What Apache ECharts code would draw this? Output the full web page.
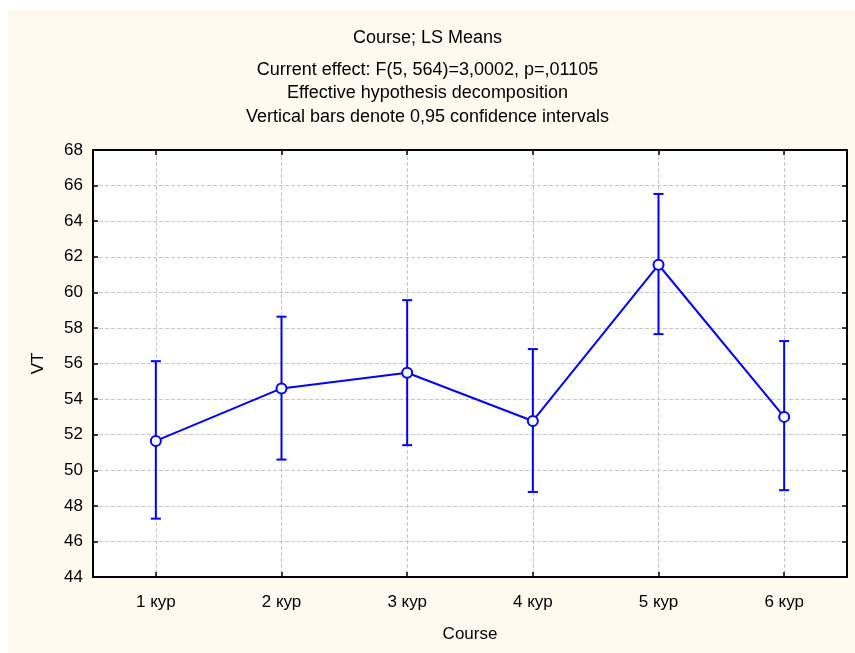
<!DOCTYPE html>
<html>
<head>
<meta charset="utf-8">
<script src="https://cdn.jsdelivr.net/npm/echarts@6/dist/echarts.min.js"></script>
<style>
html,body{margin:0;padding:0;background:#fff;}
#chart{width:855px;height:653px;}
</style>
</head>
<body>
<div id="chart"></div>
<script>
const categories = ['1 кур', '2 кур', '3 кур', '4 кур', '5 кур', '6 кур'];
const means = [51.65, 54.6, 55.48, 52.77, 61.55, 53.0];
const lower = [47.28, 50.6, 51.41, 48.78, 57.65, 48.88];
const upper = [56.13, 58.63, 59.56, 56.81, 65.53, 57.26];
const yTicks = { min: 44, max: 68, interval: 2 };

const FONT = '"Liberation Sans", Arial, sans-serif';
const BLUE = '#0000ff';

const chart = echarts.init(document.getElementById('chart'), null, { renderer: 'canvas' });

const errData = categories.map((c, i) => [i, lower[i], upper[i]]);

const option = {
  backgroundColor: '#ffffff',
  animation: false,
  textStyle: { fontFamily: FONT },
  graphic: [{
    type: 'rect', z: -100, silent: true,
    shape: { x: 8, y: 10, width: 847, height: 643 },
    style: { fill: '#fffaf0' }
  }],
  title: {
    text: 'Course; LS Means',
    subtext: 'Current effect: F(5, 564)=3,0002, p=,01105\nEffective hypothesis decomposition\nVertical bars denote 0,95 confidence intervals',
    left: 'center', top: 24,
    itemGap: 11,
    textStyle: { fontFamily: FONT, fontSize: 18, fontWeight: 'normal', color: '#000' },
    subtextStyle: { fontFamily: FONT, fontSize: 18, color: '#000', lineHeight: 23.5 }
  },
  grid: {
    left: 93, top: 150, right: 8, bottom: 76,
    show: true, backgroundColor: '#ffffff', borderWidth: 0, containLabel: false
  },
  xAxis: [{
    type: 'category', data: categories, position: 'bottom', boundaryGap: true,
    axisLine: { show: true, lineStyle: { color: '#000', width: 2 } },
    axisTick: { show: true, inside: true, length: 5, alignWithLabel: true, lineStyle: { color: '#000', width: 1.5 } },
    axisLabel: { color: '#000', fontSize: 17, margin: 17, fontFamily: FONT },
    splitLine: { show: true, alignWithLabel: true, lineStyle: { color: '#c8c8c8', type: 'dashed', width: 1 } },
    name: 'Course', nameLocation: 'middle', nameGap: 49,
    nameTextStyle: { color: '#000', fontSize: 17, fontFamily: FONT }
  }, {
    type: 'category', data: categories, position: 'top', boundaryGap: true,
    axisLine: { show: true, lineStyle: { color: '#000', width: 2 } },
    axisTick: { show: true, inside: true, length: 5, alignWithLabel: true, lineStyle: { color: '#000', width: 1.5 } },
    axisLabel: { show: false },
    splitLine: { show: false }
  }],
  yAxis: [{
    type: 'value', position: 'left', min: yTicks.min, max: yTicks.max, interval: yTicks.interval,
    axisLine: { show: true, lineStyle: { color: '#000', width: 2 } },
    axisTick: { show: true, inside: true, length: 5, lineStyle: { color: '#000', width: 1.5 } },
    axisLabel: { color: '#000', fontSize: 17, margin: 10, fontFamily: FONT },
    splitLine: { show: true, lineStyle: { color: '#c8c8c8', type: 'dashed', width: 1 } },
    name: 'VT', nameLocation: 'middle', nameGap: 46, nameRotate: 90,
    nameTextStyle: { color: '#000', fontSize: 17, fontFamily: FONT }
  }, {
    type: 'value', position: 'right', min: yTicks.min, max: yTicks.max, interval: yTicks.interval,
    axisLine: { show: true, lineStyle: { color: '#000', width: 2 } },
    axisTick: { show: true, inside: true, length: 5, lineStyle: { color: '#000', width: 1.5 } },
    axisLabel: { show: false },
    splitLine: { show: false }
  }],
  series: [{
    type: 'custom', xAxisIndex: 0, yAxisIndex: 0, z: 3,
    data: errData,
    encode: { x: 0, y: [1, 2] },
    renderItem: function (params, api) {
      const x = api.value(0);
      const lo = api.coord([x, api.value(1)]);
      const hi = api.coord([x, api.value(2)]);
      const hw = 5;
      const st = { stroke: BLUE, lineWidth: 2 };
      return {
        type: 'group',
        children: [
          { type: 'line', shape: { x1: lo[0], y1: lo[1], x2: hi[0], y2: hi[1] }, style: st },
          { type: 'line', shape: { x1: hi[0] - hw, y1: hi[1], x2: hi[0] + hw, y2: hi[1] }, style: st },
          { type: 'line', shape: { x1: lo[0] - hw, y1: lo[1], x2: lo[0] + hw, y2: lo[1] }, style: st }
        ]
      };
    }
  }, {
    type: 'line', xAxisIndex: 0, yAxisIndex: 0, z: 4,
    data: means,
    symbol: 'circle', symbolSize: 10,
    lineStyle: { color: BLUE, width: 2 },
    itemStyle: { color: '#ffffff', borderColor: BLUE, borderWidth: 2 }
  }]
};

chart.setOption(option);
</script>
</body>
</html>
